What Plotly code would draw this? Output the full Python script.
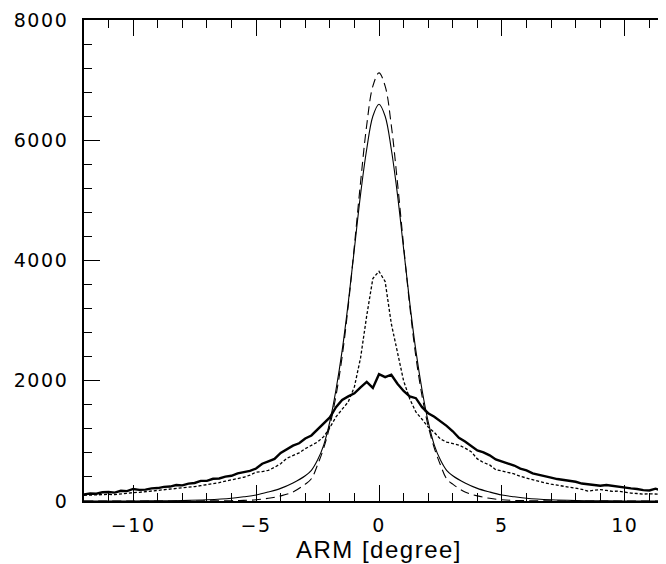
import plotly.graph_objects as go

# ---------------- data ----------------
# histogram-like curves on a 0.25 degree grid
arm_grid = [-12.00, -11.75, -11.50, -11.25, -11.00, -10.75, -10.50, -10.25,
            -10.00, -9.75, -9.50, -9.25, -9.00, -8.75, -8.50, -8.25,
            -8.00, -7.75, -7.50, -7.25, -7.00, -6.75, -6.50, -6.25,
            -6.00, -5.75, -5.50, -5.25, -5.00, -4.75, -4.50, -4.25,
            -4.00, -3.75, -3.50, -3.25, -3.00, -2.75, -2.50, -2.25,
            -2.00, -1.75, -1.50, -1.25, -1.00, -0.75, -0.50, -0.25,
            0.00, 0.25, 0.50, 0.75, 1.00, 1.25, 1.50, 1.75,
            2.00, 2.25, 2.50, 2.75, 3.00, 3.25, 3.50, 3.75,
            4.00, 4.25, 4.50, 4.75, 5.00, 5.25, 5.50, 5.75,
            6.00, 6.25, 6.50, 6.75, 7.00, 7.25, 7.50, 7.75,
            8.00, 8.25, 8.50, 8.75, 9.00, 9.25, 9.50, 9.75,
            10.00, 10.25, 10.50, 10.75, 11.00, 11.25, 11.50, 11.75, 12.00]

thick_counts = [110, 125, 120, 145, 150, 140, 170, 165,
                200, 185, 190, 210, 215, 235, 240, 265,
                260, 290, 300, 335, 335, 370, 375, 405,
                420, 460, 480, 500, 540, 620, 660, 700,
                800, 860, 920, 960, 1040, 1090, 1190, 1290,
                1390, 1560, 1680, 1740, 1790, 1890, 1980, 1880,
                2110, 2060, 2100, 1950, 1830, 1740, 1710, 1560,
                1460, 1400, 1330, 1250, 1160, 1050, 990, 920,
                840, 810, 760, 690, 660, 630, 590, 540,
                510, 460, 440, 410, 390, 365, 350, 335,
                320, 290, 275, 260, 255, 265, 250, 230,
                225, 210, 200, 180, 175, 205, 170, 185, 180]

dotted_counts = [95, 100, 95, 100, 110, 105, 120, 130,
                 140, 145, 155, 165, 170, 180, 190, 200,
                 215, 230, 240, 255, 270, 285, 305, 330,
                 350, 370, 395, 430, 480, 490, 510, 560,
                 620, 710, 750, 800, 870, 920, 980, 1070,
                 1220, 1400, 1520, 1650, 1900, 2380, 3080, 3700,
                 3820, 3650, 2950, 2450, 2000, 1700, 1480, 1360,
                 1230, 1140, 1030, 980, 950, 930, 880, 820,
                 700, 640, 600, 520, 500, 480, 450, 410,
                 380, 350, 320, 300, 280, 265, 245, 230,
                 210, 195, 165, 175, 190, 175, 160, 165,
                 145, 130, 125, 115, 120, 115, 110, 105, 105]

# smooth model curves
arm_model = [-12.0, -10.0, -9.0, -8.0, -7.0, -6.0, -5.5, -5.0, -4.5, -4.0,
             -3.5, -3.0, -2.75, -2.5, -2.25, -2.0, -1.75, -1.5, -1.25, -1.0,
             -0.75, -0.5, -0.25, 0.0, 0.25, 0.5, 0.75, 1.0, 1.25, 1.5,
             1.75, 2.0, 2.25, 2.5, 2.75, 3.0, 3.5, 4.0, 4.5, 5.0,
             5.5, 6.0, 7.0, 8.0, 9.0, 10.0, 12.0]

solid_model = [0, 1, 3, 8, 20, 45, 70, 100, 150, 210,
               300, 420, 510, 680, 930, 1320, 1850, 2500, 3300, 4200,
               5100, 5850, 6400, 6600, 6400, 5850, 5100, 4200, 3300, 2500,
               1850, 1320, 930, 680, 510, 420, 300, 210, 150, 100,
               70, 45, 20, 8, 3, 1, 0]

dashed_model = [0, 0, 0, 0, 2, 5, 10, 20, 45, 85,
                150, 280, 370, 600, 880, 1250, 1750, 2400, 3250, 4250,
                5300, 6250, 6900, 7120, 6900, 6250, 5300, 4250, 3250, 2400,
                1750, 1250, 880, 600, 370, 280, 150, 85, 45, 20,
                10, 5, 2, 0, 0, 0, 0]

x_ticks = [-10, -5, 0, 5, 10]
y_ticks = [0, 2000, 4000, 6000, 8000]
x_title = "ARM [degree]"

# ---------------- figure ----------------
fig = go.Figure()
fig.add_trace(go.Scatter(x=arm_grid, y=thick_counts, mode="lines",
                         line=dict(color="black", width=2.4), showlegend=False))
fig.add_trace(go.Scatter(x=arm_grid, y=dotted_counts, mode="lines",
                         line=dict(color="black", width=1.3, dash="3px,2px"),
                         showlegend=False))
fig.add_trace(go.Scatter(x=arm_model, y=solid_model, mode="lines",
                         line=dict(color="black", width=1.1, shape="spline"),
                         showlegend=False))
fig.add_trace(go.Scatter(x=arm_model, y=dashed_model, mode="lines",
                         line=dict(color="black", width=1.1, shape="spline",
                                   dash="9px,5px"),
                         showlegend=False))

tick_font = dict(family="DejaVu Sans", size=19, color="black")
fig.update_layout(
    width=666, height=564,
    margin=dict(l=76, r=0, t=12, b=71, autoexpand=False),
    paper_bgcolor="white", plot_bgcolor="white",
    showlegend=False,
)
fig.update_xaxes(
    range=[-12, 12], tickvals=x_ticks, ticks="inside", ticklen=16, tickwidth=1.4,
    tickcolor="black", showline=True, linecolor="black", linewidth=1.6,
    mirror="ticks", showgrid=False, zeroline=False, tickfont=tick_font,
    ticklabelstandoff=6, automargin=False,
    minor=dict(dtick=1, ticks="inside", ticklen=8, tickwidth=1.4,
               tickcolor="black", showgrid=False),
    title=dict(text=x_title, font=dict(family="Liberation Sans", size=24,
                                       color="black"), standoff=3),
)
fig.update_yaxes(
    range=[0, 8000], tickvals=y_ticks, ticks="inside", ticklen=16, tickwidth=1.4,
    tickcolor="black", showline=True, linecolor="black", linewidth=1.6,
    mirror="ticks", showgrid=False, zeroline=False, tickfont=tick_font,
    ticklabelstandoff=10, automargin=False,
    minor=dict(dtick=400, ticks="inside", ticklen=8, tickwidth=1.4,
               tickcolor="black", showgrid=False),
)

# widen letter spacing of the labels like the reference typeface
spacing_js = (
    "document.querySelectorAll('.xtick text, .ytick text').forEach("
    "function(t){t.style.letterSpacing='1.6px';});"
    "document.querySelectorAll('.xtitle').forEach("
    "function(t){t.style.letterSpacing='1.5px';});"
)

fig.write_html("out.html", post_script=spacing_js)
